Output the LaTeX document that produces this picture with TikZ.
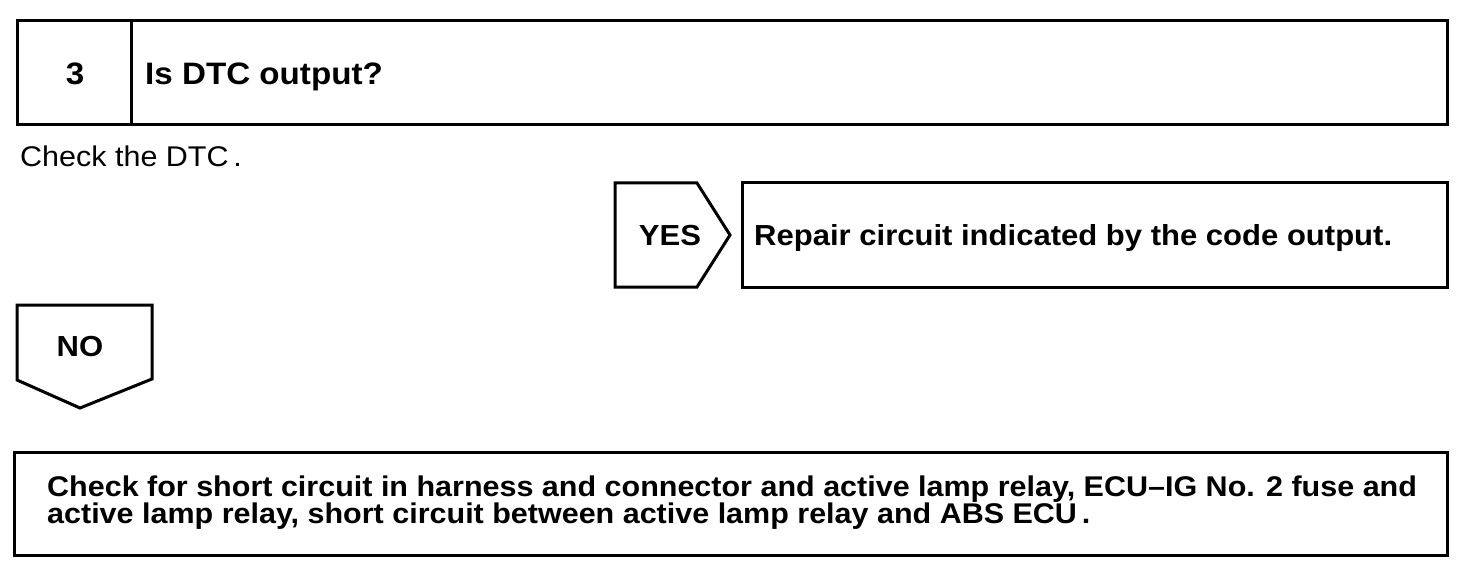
\documentclass[tikz,border=0pt]{standalone}
\usepackage{fontspec}
\setmainfont{Liberation Sans}
\newfontfamily\widefont[FakeStretch=1.07,Ligatures=TeX]{Liberation Sans}
\begin{document}
\begin{tikzpicture}[x=1pt,y=-1pt,
  box/.style={draw=black,line width=3pt},
  head/.style={font=\widefont\bfseries\fontsize{31}{31}\selectfont,inner sep=0pt},
  big/.style={font=\widefont\bfseries\fontsize{29}{25}\selectfont,inner sep=0pt},
  act/.style={font=\widefont\bfseries\fontsize{28.5}{25}\selectfont,inner sep=0pt},
  plain/.style={font=\widefont\fontsize{28.5}{28}\selectfont,inner sep=0pt}]
\useasboundingbox (0,0) rectangle (1472,580);
% step header
\draw[box] (17,21) rectangle (1447,125);
\draw[box] (131,21) -- (131,125);
\node[head,anchor=base] (num) at (75,85) {3};
\node[head,anchor=base west] (q) at (145,85) {Is DTC output?};
\node[plain,anchor=base west] (chk) at (20,167) {Check the DTC\,.};
% YES
\draw[box,line join=miter] (615,183) -- (697,183) -- (730,235) -- (697,287) -- (615,287) -- cycle;
\node[big,anchor=base] (yes) at (670,245) {YES};
\draw[box] (742,183) rectangle (1447,287);
\node[big,anchor=base west] (rep) at (754,245) {Repair circuit indicated by the code output.};
% NO
\draw[box,line join=miter] (17,305) -- (152,305) -- (152,379) -- (80,408) -- (17,380) -- cycle;
\node[big,anchor=base] (no) at (80,356) {NO};
% bottom
\draw[box] (14,452) rectangle (1447,555);
\node[act,anchor=base west] (act1) at (47,496) {Check for short circuit in harness and connector and active lamp relay, ECU–IG No. 2 fuse and};
\node[act,anchor=base west] (act2) at (47,523) {active lamp relay, short circuit between active lamp relay and ABS ECU\,.};
\end{tikzpicture}
\end{document}
